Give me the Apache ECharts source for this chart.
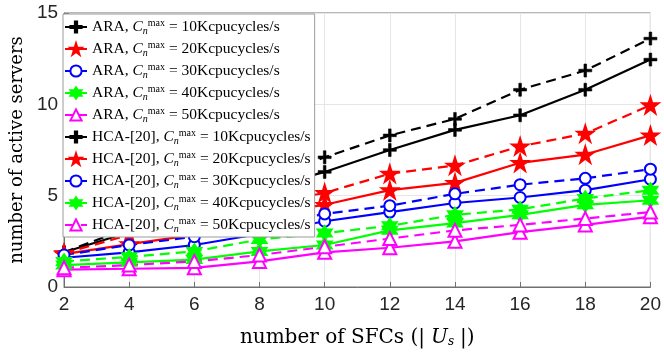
<!DOCTYPE html>
<html>
<head>
<meta charset="utf-8">
<script src="https://cdn.jsdelivr.net/npm/echarts@6/dist/echarts.min.js"></script>
<style>
  html, body { margin: 0; padding: 0; background: #fff; }
  #main { width: 664px; height: 353px; }
</style>
</head>
<body>
<div id="main"></div>
<script>
// number of SFCs
const sfcCounts = [2, 4, 6, 8, 10, 12, 14, 16, 18, 20]
const capacities = [10, 20, 30, 40, 50]
const yTicks = [0, 5, 10, 15]

// ARA (solid lines), one array per C_n^max
const ara10 = [1.9, 3.0, 4.4, 5.3, 6.3, 7.5, 8.6, 9.4, 10.8, 12.45]
const ara20 = [1.8, 2.35, 2.85, 4.0, 4.5, 5.3, 5.7, 6.8, 7.25, 8.3]
const ara30 = [1.6, 1.9, 2.3, 2.9, 3.6, 4.1, 4.6, 4.9, 5.3, 5.9]
const ara40 = [1.2, 1.35, 1.5, 1.95, 2.3, 3.1, 3.5, 3.95, 4.5, 4.75]
const ara50 = [0.95, 1.0, 1.05, 1.4, 1.9, 2.15, 2.5, 3.0, 3.4, 3.85]

// HCA-[20] (dashed lines)
const hca10 = [1.9, 3.25, 4.6, 5.8, 7.1, 8.3, 9.2, 10.8, 11.85, 13.6]
const hca20 = [1.85, 2.85, 3.65, 4.5, 5.15, 6.2, 6.65, 7.7, 8.4, 9.95]
const hca30 = [1.75, 2.3, 2.75, 3.35, 4.0, 4.45, 5.1, 5.6, 5.95, 6.45]
const hca40 = [1.4, 1.65, 1.95, 2.6, 2.95, 3.35, 3.95, 4.25, 4.85, 5.3]
const hca50 = [1.05, 1.2, 1.4, 1.75, 2.2, 2.65, 3.1, 3.4, 3.75, 4.1]

const colors = ['#000000', '#ff0000', '#0000ff', '#00ff00', '#ff00ff']

const plusPath = 'path://M4,0 H6 V4 H10 V6 H6 V10 H4 V6 H0 V4 H4 Z'
const starPath = 'path://M50,0 L61.2,34.5 L97.6,34.5 L68.2,55.9 L79.4,90.5 L50,69.1 L20.6,90.5 L31.8,55.9 L2.4,34.5 L38.8,34.5 Z'
const hexPath = 'path://M50,0 L64.4,25 L93.3,25 L78.9,50 L93.3,75 L64.4,75 L50,100 L35.6,75 L6.7,75 L21.1,50 L6.7,25 L35.6,25 Z'

const symbols = [plusPath, starPath, 'emptyCircle', hexPath, 'emptyTriangle']
const symbolSizes = [13, 16, 11, 14, 13]

const serif = '"Liberation Serif", "DejaVu Serif", serif'
const serifWide = '"DejaVu Serif", "Liberation Serif", serif'

function makeSeries(alg, dataList, dashed) {
  return dataList.map((vals, i) => {
    return {
      name: alg + ', C = ' + capacities[i] + 'Kcpucycles/s',
      type: 'line',
      data: sfcCounts.map((x, k) => [x, vals[k]]),
      symbol: symbols[i],
      symbolSize: symbolSizes[i],
      showAllSymbol: true,
      lineStyle: {
        color: colors[i],
        width: 2.2,
        type: dashed ? [10, 6] : 'solid'
      },
      itemStyle: {
        color: colors[i],
        borderColor: colors[i],
        borderWidth: (i === 0) ? 0.6 : 2
      },
      emphasis: { disabled: true }
    }
  })
}

const seriesList = makeSeries('ARA', [ara10, ara20, ara30, ara40, ara50], false)
  .concat(makeSeries('HCA-[20]', [hca10, hca20, hca30, hca40, hca50], true))

const chart = echarts.init(document.getElementById('main'))
const option = {
  animation: false,
  grid: {
    left: 59,
    right: 13,
    top: 13,
    bottom: 66,
    show: true,
    borderColor: '#707070',
    borderWidth: 1
  },
  legend: {
    orient: 'vertical',
    left: 63,
    top: 14,
    padding: [4, 4, 3, 1],
    itemWidth: 22,
    itemHeight: 14,
    itemGap: 4,
    backgroundColor: '#ffffff',
    borderColor: '#9a9a9a',
    borderWidth: 1,
    data: seriesList.map(s => s.name),
    formatter: function (name) {
      const parts = name.split(', C = ')
      return parts[0] + ', {c|C}{sub|n}{sup|max} = ' + parts[1]
    },
    textStyle: {
      fontFamily: serif,
      fontSize: 15.5,
      color: '#000',
      rich: {
        c: { fontFamily: serif, fontSize: 15.5, fontStyle: 'italic', color: '#000' },
        sub: { fontFamily: serif, fontSize: 10, fontStyle: 'italic', color: '#000', verticalAlign: 'bottom', padding: [7, 0, 0, 0] },
        sup: { fontFamily: serif, fontSize: 10, color: '#000', verticalAlign: 'top', padding: [0, 0, 8, 0] }
      }
    }
  },
  xAxis: {
    type: 'value',
    min: 2,
    max: 20,
    interval: 2,
    name: 'number of SFCs (|{u|U}{s|s}|)',
    nameLocation: 'middle',
    nameGap: 40,
    nameTextStyle: {
      fontFamily: serifWide,
      fontSize: 20,
      color: '#000',
      rich: {
        u: { fontFamily: serifWide, fontSize: 20, fontStyle: 'italic', color: '#000', padding: [0, 0, 0, 6] },
        s: { fontFamily: serifWide, fontSize: 12, fontStyle: 'italic', color: '#000', verticalAlign: 'bottom', padding: [9, 6, 0, 0] }
      }
    },
    axisLine: { lineStyle: { color: '#707070' } },
    axisTick: { inside: true, length: 5, lineStyle: { color: '#707070' } },
    axisLabel: {
      fontFamily: '"Liberation Sans", Arial, sans-serif',
      fontSize: 19,
      color: '#262626',
      margin: 8,
      formatter: v => String(v)
    },
    splitLine: { show: true, lineStyle: { color: '#e6e6e6' } }
  },
  yAxis: {
    type: 'value',
    min: yTicks[0],
    max: yTicks[yTicks.length - 1],
    interval: yTicks[1] - yTicks[0],
    name: 'number of active servers',
    nameLocation: 'middle',
    nameGap: 27,
    nameTextStyle: { fontFamily: serifWide, fontSize: 18, color: '#000' },
    axisLine: { show: true, lineStyle: { color: '#707070' } },
    axisTick: { show: true, inside: true, length: 5, lineStyle: { color: '#707070' } },
    axisLabel: {
      fontFamily: '"Liberation Sans", Arial, sans-serif',
      fontSize: 19,
      color: '#262626',
      margin: 6
    },
    splitLine: { show: true, lineStyle: { color: '#e6e6e6' } }
  },
  series: seriesList
}
option && chart.setOption(option)
</script>
</body>
</html>
